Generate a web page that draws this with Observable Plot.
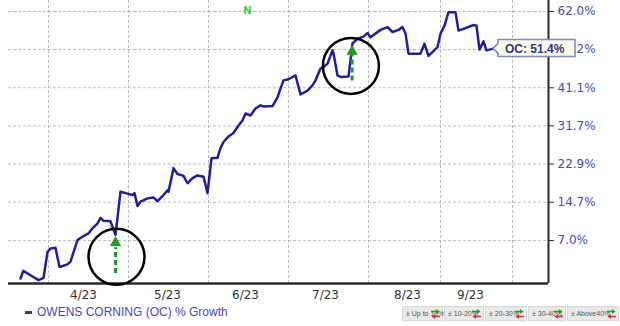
<!DOCTYPE html>
<html>
<head>
<meta charset="utf-8">
<script src="https://cdn.jsdelivr.net/npm/d3@7"></script>
<script src="https://cdn.jsdelivr.net/npm/@observablehq/plot@0.6"></script>
<style>
  html, body { margin: 0; padding: 0; background: #fff; }
  #wrap { width: 620px; height: 326px; position: relative; overflow: hidden; }
  #legend { position: relative; width: 620px; height: 23px; font-family: "Liberation Sans", Arial, sans-serif; }
  .lg-swatch { position: absolute; left: 25px; top: 8px; width: 7px; height: 3px; background: #3a36b0; }
  .lg-text { position: absolute; left: 37px; top: 2px; font-size: 12px; color: #4b47b6; white-space: nowrap; }
  .box { position: absolute; top: 3px; height: 15px; background: #e9e9e9; border: 1px solid #d6d6d6; box-sizing: border-box;
         font-size: 7px; color: #555; line-height: 13px; padding-left: 3px; white-space: nowrap; }
  .arr { position: absolute; right: 2px; top: 1px; width: 9px; height: 12px; }
</style>
</head>
<body>
<div id="wrap">
  <div id="chart"></div>
  <div id="legend"></div>
</div>
<script>
// ---- data ----
const day = [-7, -6.3, -4.5, -2.5, -1.25, -0.25, 0.5, 1.75, 2.75, 4.75, 5.5, 7.25, 8, 9.25, 10, 11, 12.25, 13, 13.75, 15.5,
  16.75, 18, 19.25, 21, 21.5, 22.25, 23, 24.75, 26.25, 27.25, 28.75, 29.75, 30, 31.25, 32.25, 33.75, 34.75, 36, 37.25, 38.75,
  39.75, 40.75, 42.25, 43, 43.75, 45, 46.25, 47.5, 48.5, 49.25, 50.5, 51.75, 53, 53.75, 56, 57.25, 58, 58.75, 60, 61.75,
  63, 64.75, 66, 66.75, 68, 68.75, 69.75, 71, 71.25, 72.25, 73, 75, 76, 77.25, 78.75, 79.75, 80.5, 83, 84.75, 86,
  87.5, 88.5, 89.25, 90, 93, 94, 95, 97.25, 98, 99, 100, 101.75, 102.5, 103.75, 106.25, 107, 107.75, 108.75, 109.5, 111];
const growth = [-0.1, 1.3, 0.5, -0.4, 0.0, 4.8, 5.5, 5.6, 2.0, 2.5, 3.0, 7.1, 7.5, 8.1, 8.4, 9.4, 10.4, 11.5, 10.9, 10.8,
  8.1, 16.9, 16.6, 16.2, 16.6, 13.9, 14.8, 15.5, 15.7, 14.9, 16.2, 17.2, 16.9, 22.0, 20.7, 20.3, 18.7, 19.8, 20.4, 20.1,
  16.6, 24.2, 24.3, 26.5, 27.9, 29.2, 30.0, 31.8, 33.0, 34.7, 34.2, 35.9, 36.7, 36.4, 36.5, 38.7, 40.9, 43.0, 43.3, 44.3,
  39.4, 40.4, 41.7, 43.0, 46.1, 46.5, 47.4, 51.0, 50.2, 44.3, 43.9, 44.0, 52.9, 54.2, 54.8, 55.8, 54.6, 56.7, 57.5, 56.1,
  56.7, 57.5, 55.7, 50.1, 50.1, 52.8, 49.5, 51.9, 55.6, 57.9, 61.8, 61.8, 56.5, 57.0, 58.1, 57.9, 51.2, 53.5, 51.0, 51.4];

const monthEdges = [0, 20, 40, 60, 80, 98, 116];
const monthLabels = ["4/23", "5/23", "6/23", "7/23", "8/23", "9/23"];
const monthLabelPos = [8.75, 29.75, 49.25, 69.25, 89.75, 105.5];
const yTickPct = [7.0, 14.7, 22.9, 31.7, 41.1, 51.2, 62.0];
const xDomain = [-10, 125];
const yDomainPct = [-1.0, 65.26];

// annotations
const circleDay = [17, 75.6];
const circlePct = [3.9, 46.8];
const arrowDay = [16.75, 75.9];
const arrowFromPct = [0.9, 43.0];
const arrowToPct = [5.7, 50.0];
const arrowHeadPct = [6.6, 50.7];
const newMarkDay = 49.75;
const seriesName = "OWENS CORNING (OC) % Growth";
const lastLabel = "OC: 51.4%";
const scaleBoxes = ["Up to 10%", "10-20%", "20-30%", "30-40%", "Above40%"];

// ---- build ----
const f = p => 1 + p / 100;
const series = day.map((d, i) => ({d, v: f(growth[i])}));
const circles = circleDay.map((d, i) => ({d, v: f(circlePct[i])}));
const arrows = arrowDay.map((d, i) => ({d, v1: f(arrowFromPct[i]), v2: f(arrowToPct[i]), vh: f(arrowHeadPct[i])}));
const xLabels = monthLabelPos.map((p, i) => ({p, t: monthLabels[i]}));
const yTicks = yTickPct.map(f);
const yMin = f(yDomainPct[0]);

const grid = {stroke: "#b8b8b8", strokeOpacity: 1, strokeWidth: 1, strokeDasharray: "3,2"};

const chart = Plot.plot({
  width: 620,
  height: 303,
  marginLeft: 8,
  marginRight: 72,
  marginTop: 0,
  marginBottom: 20,
  style: {fontFamily: "'DejaVu Sans', Verdana, sans-serif", fontSize: "12px", background: "#fff", overflow: "visible"},
  x: {type: "linear", domain: xDomain, axis: null},
  y: {type: "log", domain: [yMin, f(yDomainPct[1])], axis: null},
  marks: [
    Plot.gridY(yTicks, grid),
    Plot.gridX(monthEdges, grid),
    Plot.ruleY([yMin], {stroke: "#2a2a2a", strokeWidth: 2.5}),
    Plot.ruleX([xDomain[1]], {stroke: "#2a2a2a", strokeWidth: 2}),
    Plot.axisY(yTicks, {
      anchor: "right", tickSize: 5, tickPadding: 4, stroke: "#2a2a2a",
      fill: "#4b47b6", fontSize: 12,
      tickFormat: v => ((v - 1) * 100).toFixed(1) + "%"
    }),
    Plot.text(xLabels, {x: "p", text: "t", frameAnchor: "bottom", dy: 15, fill: "#333", fontSize: 12}),
    Plot.text([newMarkDay], {x: d => d, text: () => "N", frameAnchor: "top", dy: 6, fill: "#3fcf3f", fontWeight: "bold", fontSize: 10}),
    Plot.line(series, {x: "d", y: "v", stroke: "#1f1fa0", strokeWidth: 2.5, strokeLinejoin: "round", curve: "linear"}),
    Plot.link(arrows, {x1: "d", x2: "d", y1: "v1", y2: "v2", stroke: "#1f9a2a", strokeWidth: 3, strokeDasharray: "5,3"}),
    Plot.dot(arrows, {x: "d", y: "vh", symbol: "triangle", r: 4.2, fill: "#1f9a2a", stroke: "none"}),
    Plot.dot(circles, {x: "d", y: "v", r: 28, stroke: "#000", strokeWidth: 2.5, fill: "none"})
  ]
});
document.getElementById("chart").appendChild(chart);

// callout at last value, positioned via the chart's own scales
const sx = chart.scale("x"), sy = chart.scale("y");
const lx = sx.apply(day[day.length - 1]) + 1;
const ly = sy.apply(f(growth[growth.length - 1]));
const bx = lx + 5, bw = 77;
const g = d3.select(chart).append("g");
g.append("path")
  .attr("d", `M${lx},${ly} L${bx},${ly - 5} L${bx},${ly - 9} L${bx + bw},${ly - 9} L${bx + bw},${ly + 8} L${bx},${ly + 8} L${bx},${ly + 5} Z`)
  .attr("fill", "#fbfae8").attr("stroke", "#7e88c6").attr("stroke-width", 1.5).attr("stroke-linejoin", "round");
g.append("text").attr("x", bx + 7).attr("y", ly).attr("dy", "0.36em").attr("text-anchor", "start")
  .attr("font-family", "'Liberation Sans', Arial, sans-serif").attr("font-weight", "bold").attr("font-size", 12)
  .attr("fill", "#2d3785").text(lastLabel);

// legend below the svg
const lg = document.getElementById("legend");
lg.innerHTML = `<div class="lg-swatch"></div><div class="lg-text">${seriesName}</div>`;
const boxLeft = [402, 444, 485, 528, 567];
const boxW = [41, 40, 42, 38, 52];
const arrowSvg = `<svg class="arr" viewBox="0 0 9 12"><path d="M0,3.5 H6" stroke="#22a022" stroke-width="1.6"/><path d="M5,1 L8.5,3.5 L5,6 Z" fill="#22a022"/><path d="M3,8.5 H9" stroke="#e03030" stroke-width="1.6"/><path d="M4,6 L0.5,8.5 L4,11 Z" fill="#e03030"/></svg>`;
scaleBoxes.forEach((t, i) => {
  const b = document.createElement("div");
  b.className = "box";
  b.style.left = boxLeft[i] + "px";
  b.style.width = boxW[i] + "px";
  b.innerHTML = "± " + t + arrowSvg;
  lg.appendChild(b);
});
</script>
</body>
</html>
